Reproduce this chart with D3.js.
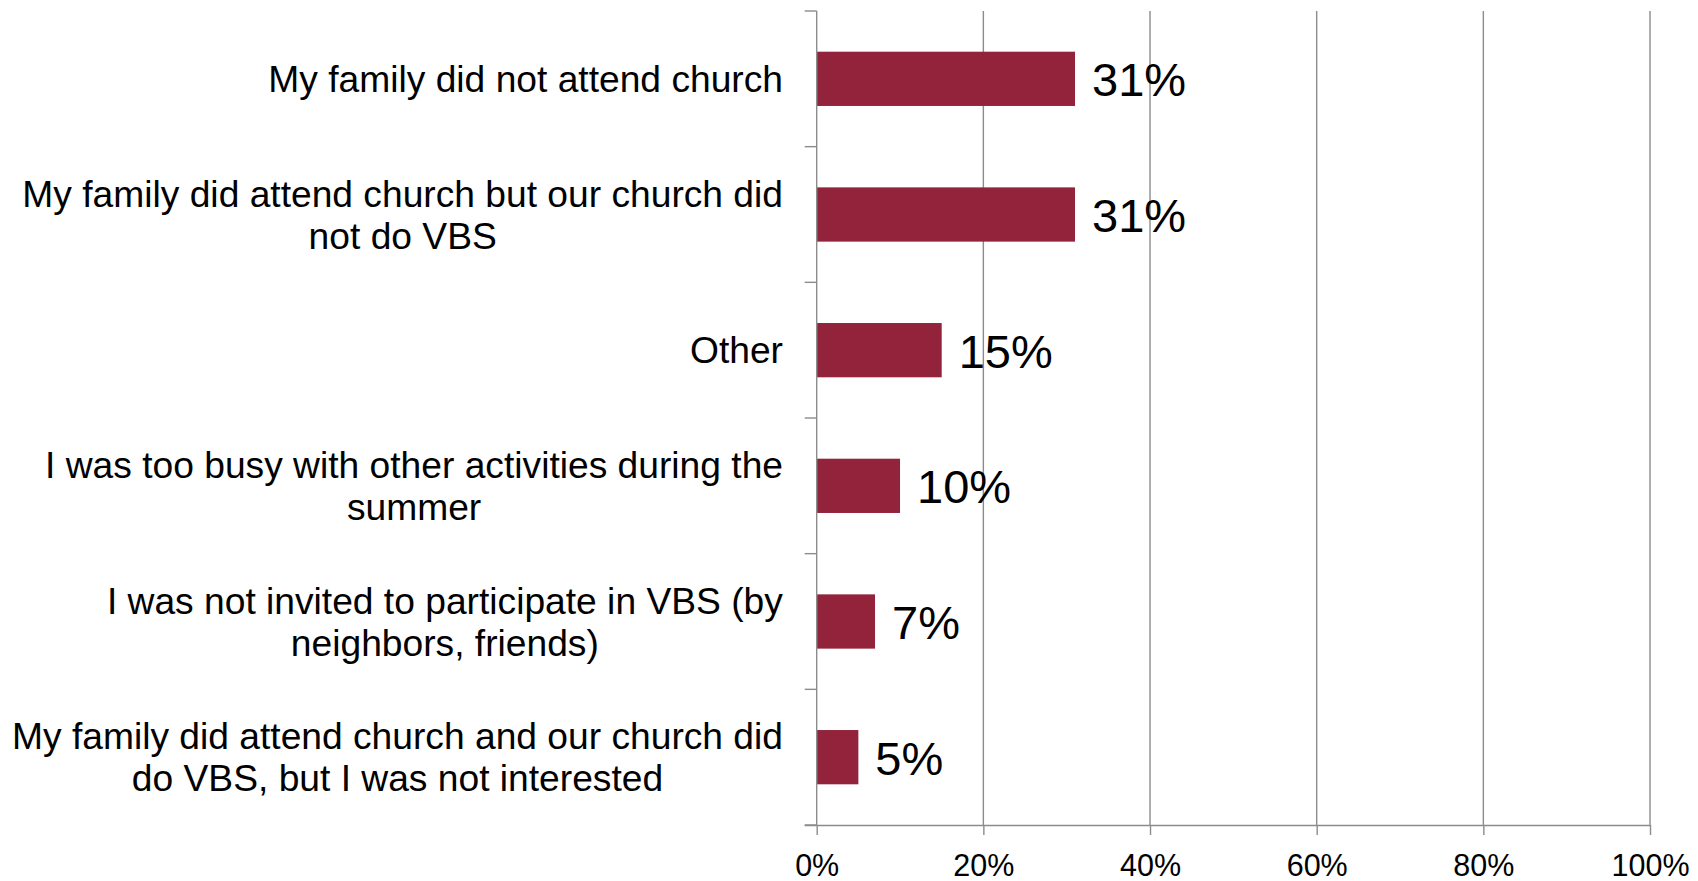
<!DOCTYPE html>
<html>
<head>
<meta charset="utf-8">
<script src="https://cdn.jsdelivr.net/npm/d3@7"></script>
<style>
html, body { margin: 0; padding: 0; background: #fff; }
svg { display: block; font-family: "Liberation Sans", Arial, sans-serif; }
</style>
</head>
<body>
<svg id="chart" width="1698" height="881"></svg>
<script>
const categories = [
  "My family did not attend church",
  "My family did attend church but our church did not do VBS",
  "Other",
  "I was too busy with other activities during the summer",
  "I was not invited to participate in VBS (by neighbors, friends)",
  "My family did attend church and our church did do VBS, but I was not interested"
];
const categoryLines = [
  ["My family did not attend church"],
  ["My family did attend church but our church did", "not do VBS"],
  ["Other"],
  ["I was too busy with other activities during the", "summer"],
  ["I was not invited to participate in VBS (by", "neighbors, friends)"],
  ["My family did attend church and our church did", "do VBS, but I was not interested"]
];
const values = [31, 31, 15, 10, 7, 5];
const xTicks = [0, 20, 40, 60, 80, 100];
const xTickLabels = ["0%", "20%", "40%", "60%", "80%", "100%"];

(function () {
const svg = d3.select("#chart");
const mLeft = 816.7, mRight = 1650, mTop = 11, mBottom = 825;
const gridColor = "#8c8c8c";
const barColor = "#92233a";

const x = d3.scaleLinear().domain([0, 100]).range([mLeft, mRight]);
const y = d3.scaleBand().domain(categories).range([mTop, mBottom]).paddingInner(0.6).paddingOuter(0.3);

// gridlines
svg.append("g").selectAll("line").data(xTicks.slice(1)).join("line")
  .attr("x1", d => x(d)).attr("x2", d => x(d))
  .attr("y1", mTop).attr("y2", mBottom)
  .attr("stroke", gridColor).attr("stroke-width", 1.4);

// bars
svg.append("g").selectAll("rect").data(categories).join("rect")
  .attr("x", x(0))
  .attr("y", d => y(d))
  .attr("width", (d, i) => x(values[i]) - x(0))
  .attr("height", y.bandwidth())
  .attr("fill", barColor);

// y axis line
svg.append("line").attr("x1", mLeft).attr("x2", mLeft).attr("y1", mTop).attr("y2", mBottom)
  .attr("stroke", gridColor).attr("stroke-width", 1.4);
// y band boundary ticks
const step = y.step();
const bounds = d3.range(categories.length + 1).map(i => mTop + i * step);
svg.append("g").selectAll("line").data(bounds).join("line")
  .attr("x1", mLeft - 12).attr("x2", mLeft)
  .attr("y1", d => d).attr("y2", d => d)
  .attr("stroke", gridColor).attr("stroke-width", 1.4);

// x axis
const xAxis = d3.axisBottom(x).tickValues(xTicks).tickSize(10).tickFormat((d, i) => xTickLabels[i]);
const gx = svg.append("g").attr("transform", `translate(0,${mBottom})`).call(xAxis);
gx.select(".domain").attr("d", `M${mLeft - 12},0.5H${mRight}`).attr("stroke", gridColor).attr("stroke-width", 1.4);
gx.selectAll(".tick line").attr("stroke", gridColor).attr("stroke-width", 1.4);
gx.selectAll(".tick text").attr("font-size", 30.5).attr("fill", "#000")
  .attr("font-family", "'Liberation Sans', Arial, sans-serif").attr("dy", "0").attr("y", 51);

// category labels
const fs = 37.2, lh = 42;
const lab = svg.append("g");
categories.forEach((c, i) => {
  const lines = categoryLines[i];
  const cy = y(c) + y.bandwidth() / 2;
  const n = lines.length;
  const t = lab.append("text").attr("text-anchor", "middle").attr("font-size", fs).attr("fill", "#000");
  lines.forEach((ln, j) => {
    t.append("tspan").attr("x", 0).attr("y", cy + (j - (n - 1) / 2) * lh + fs * 0.358).text(ln);
  });
  const w = t.node().getBBox().width;
  t.attr("transform", `translate(${783 - w / 2},0)`);
});

// value labels
svg.append("g").selectAll("text").data(categories).join("text")
  .attr("x", (d, i) => x(values[i]) + 17)
  .attr("y", d => y(d) + y.bandwidth() / 2 + 17.5)
  .attr("font-size", 47).attr("fill", "#000")
  .text((d, i) => values[i] + "%");
})();
</script>
</body>
</html>
